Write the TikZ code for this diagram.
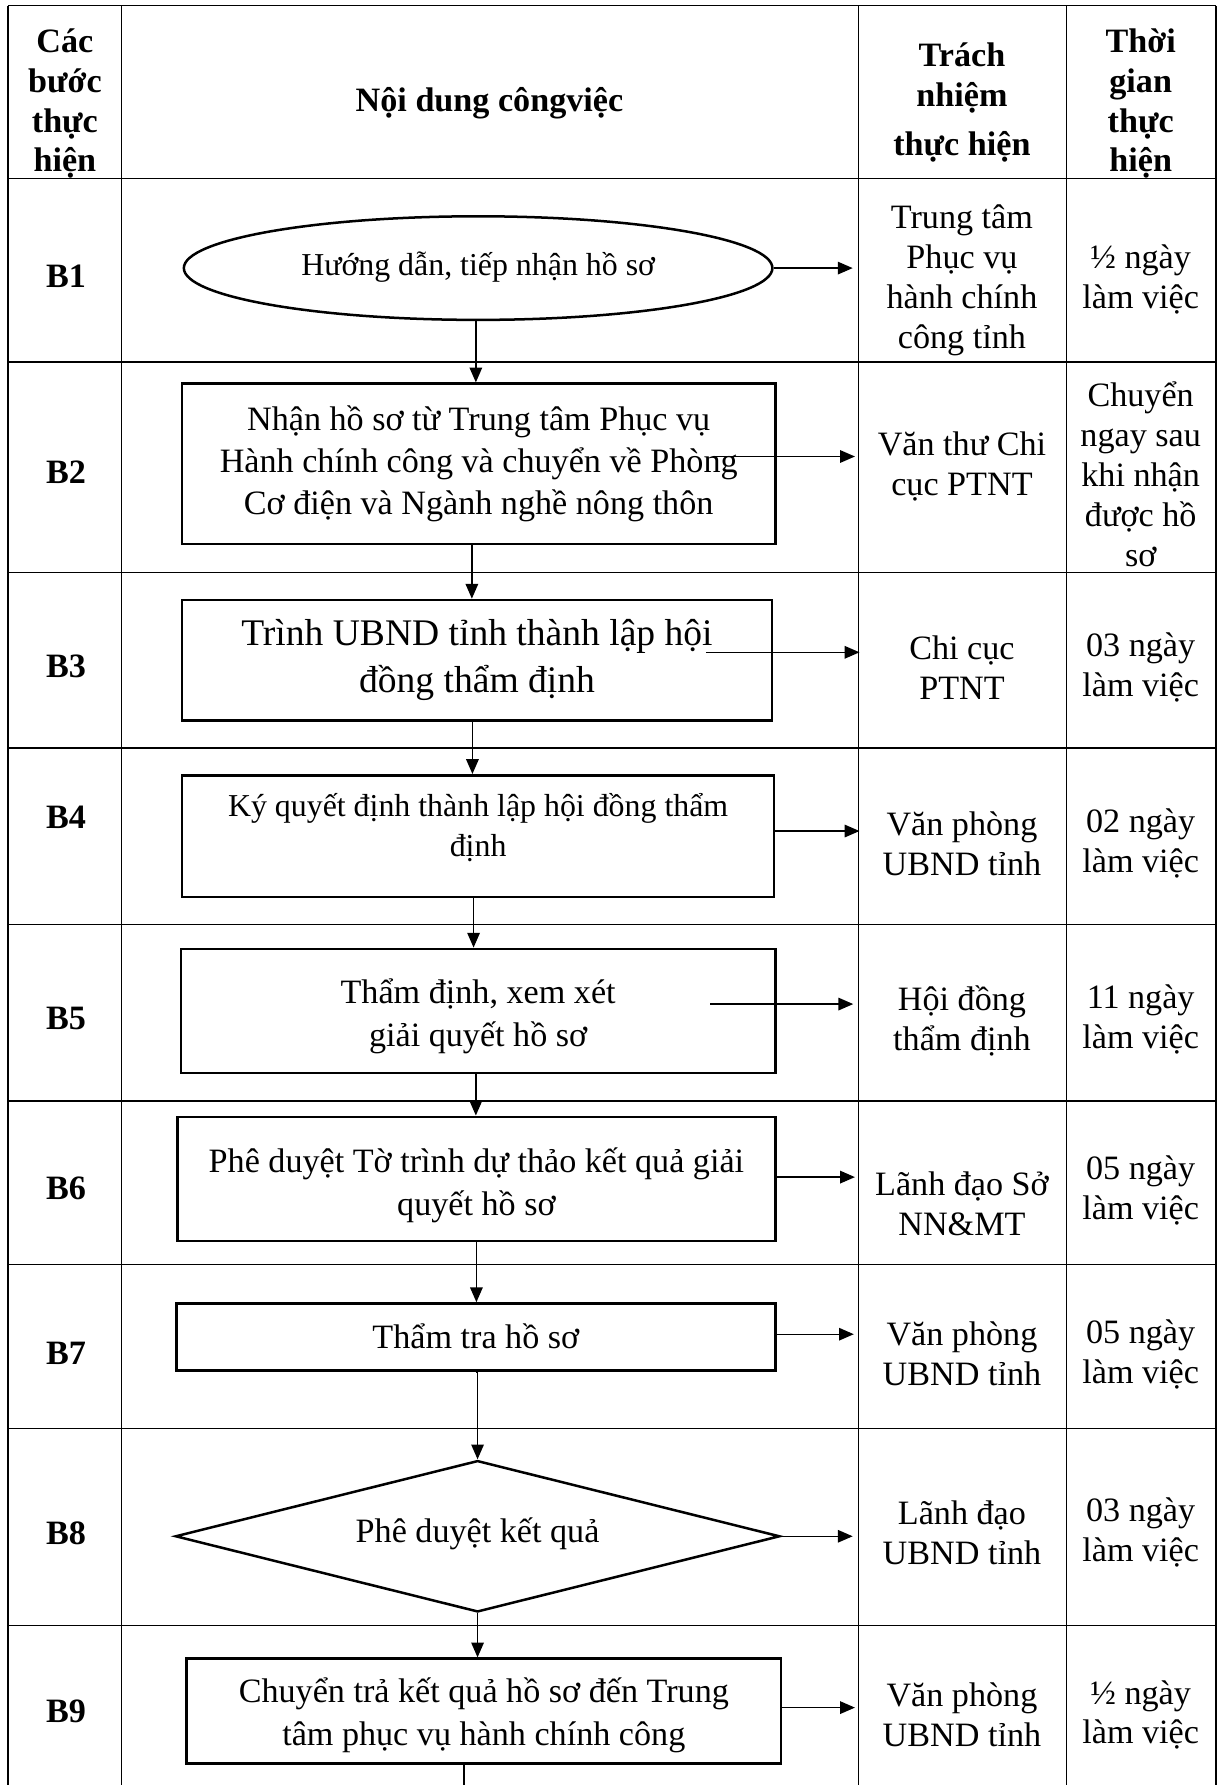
\documentclass[tikz,border=0pt]{standalone}
\usepackage{fontspec}
\setmainfont{Liberation Serif}
\usetikzlibrary{arrows.meta,shapes.geometric}

\begin{document}
\begin{tikzpicture}[x=0.5pt,y=-0.5pt
	,>={Triangle[length=6.5pt,width=5.5pt]}
	,line width=0.6pt]
  \tikzstyle{tablerule}=[line width=0.6pt]
  \tikzstyle{stepbox}=[draw,rectangle,line width=1.1pt,inner sep=0pt]
  \tikzstyle{startend}=[draw,ellipse,line width=1.1pt,inner sep=0pt]
  \tikzstyle{decision}=[draw,diamond,line width=1.1pt,inner sep=0pt]
  \tikzstyle{cell}=[align=center,inner sep=0pt,font=\fontsize{15}{17.5}\selectfont]
  \tikzstyle{steptext}=[align=center,inner sep=0pt,font=\fontsize{15}{19}\selectfont]
  \tikzstyle{headcell}=[cell,font=\bfseries\fontsize{15}{17.5}\selectfont]

  \useasboundingbox (0,0) rectangle (1070,1568);

  % table rules
  \foreach \y in {5,157,318,503,657,812,967,1111,1255,1428}
    \draw[tablerule] (7,\y) -- (1068,\y);
  \foreach \x in {7,107,754,937,1068}
    \draw[tablerule] (\x,5) -- (\x,1568);

  % header
  \node[headcell] (hstep) at (57,91)   {Các\\ bước\\ thực\\ hiện};
  \node[headcell] (hwork) at (430,91)  {Nội dung côngviệc};
  \node[headcell] (hresp) at (845,90)  {Trách\\ nhiệm\\[4pt] thực hiện};
  \node[headcell] (htime) at (1002,91) {Thời\\ gian\\ thực\\ hiện};

  % step names
  \foreach \n/\y in {1/243,2/415,3/585,4/718,5/895,6/1044,7/1189,8/1347,9/1503}
    \node[headcell] (b\n) at (58,\y) {B\n};

  % flow shapes
  \node[startend,minimum width=258.5pt,minimum height=45.5pt] (s1) at (420,235.5) {};
  \node[stepbox,minimum width=260.5pt,minimum height=70.5pt] (s2) at (420.5,407.5) {};
  \node[stepbox,minimum width=259pt,minimum height=53pt] (s3) at (419,580) {};
  \node[stepbox,minimum width=260pt,minimum height=53.5pt] (s4) at (420,734.5) {};
  \node[stepbox,minimum width=261pt,minimum height=54.5pt] (s5) at (420,888) {};
  \node[stepbox,minimum width=262.5pt,minimum height=54.5pt] (s6) at (418.5,1035.5) {};
  \node[stepbox,minimum width=263pt,minimum height=29.5pt] (s7) at (418,1174.5) {};
  \node[decision,minimum width=265.5pt,minimum height=66.5pt] (s8) at (419.5,1349.5) {};
  \node[stepbox,minimum width=261pt,minimum height=46pt] (s9) at (425,1503) {};

  % texts of the shapes
  \node[steptext,font=\fontsize{14}{16}\selectfont] (t1) at (420,234.5)
	{Hướng dẫn, tiếp nhận hồ sơ};
  \node[steptext,font=\fontsize{15}{18.5}\selectfont] (t2) at (420.5,407.5)
	{Nhận hồ sơ từ Trung tâm Phục vụ\\ Hành chính công và chuyển về Phòng\\
	 Cơ điện và Ngành nghề nông thôn};
  \node[steptext,font=\fontsize{16.5}{20.5}\selectfont] (t3) at (419,580)
	{Trình UBND tỉnh thành lập hội\\ đồng thẩm định};
  \node[steptext,font=\fontsize{14}{17.5}\selectfont] (t4) at (420,727)
	{Ký quyết định thành lập hội đồng thẩm\\ định};
  \node[steptext] (t5) at (420,892.5)  {Thẩm định, xem xét\\ giải quyết hồ sơ};
  \node[steptext] (t6) at (418.5,1041.5)
	{Phê duyệt Tờ trình dự thảo kết quả giải\\ quyết hồ sơ};
  \node[steptext] (t7) at (418,1174)   {Thẩm tra hồ sơ};
  \node[steptext] (t8) at (419.5,1347) {Phê duyệt kết quả};
  \node[steptext] (t9) at (425,1507)
	{Chuyển trả kết quả hồ sơ đến Trung\\ tâm phục vụ hành chính công};

  % responsible units
  \node[cell] (resp1) at (845,246)    {Trung tâm\\ Phục vụ\\ hành chính\\ công tỉnh};
  \node[cell] (resp2) at (845,409.5)  {Văn thư Chi\\ cục PTNT};
  \node[cell] (resp3) at (845,586.5)  {Chi cục\\ PTNT};
  \node[cell] (resp4) at (845,741)    {Văn phòng\\ UBND tỉnh};
  \node[cell] (resp5) at (845,896.5)  {Hội đồng\\ thẩm định};
  \node[cell] (resp6) at (845,1057.5) {Lãnh đạo Sở\\ NN\&MT};
  \node[cell] (resp7) at (845,1189.5) {Văn phòng\\ UBND tỉnh};
  \node[cell] (resp8) at (845,1346.5) {Lãnh đạo\\ UBND tỉnh};
  \node[cell] (resp9) at (845,1506.5) {Văn phòng\\ UBND tỉnh};

  % time
  \node[cell] (time1) at (1002,245.5)  {½ ngày\\ làm việc};
  \node[cell] (time2) at (1002,416.5)  {Chuyển\\ ngay sau\\ khi nhận\\ được hồ\\ sơ};
  \node[cell] (time3) at (1002,586.5)  {03 ngày\\ làm việc};
  \node[cell] (time4) at (1002,741)    {02 ngày\\ làm việc};
  \node[cell] (time5) at (1002,895.5)  {11 ngày\\ làm việc};
  \node[cell] (time6) at (1002,1045.5) {05 ngày\\ làm việc};
  \node[cell] (time7) at (1002,1189.5) {05 ngày\\ làm việc};
  \node[cell] (time8) at (1002,1346.5) {03 ngày\\ làm việc};
  \node[cell] (time9) at (1002,1506.5) {½ ngày\\ làm việc};

  % arrow ends at the responsibility column
  \coordinate (in1) at (749,235.5);
  \coordinate (in2) at (751,401);
  \coordinate (in3) at (755,573);
  \coordinate (in4) at (755,730);
  \coordinate (in5) at (749.5,882);
  \coordinate (in6) at (751,1034);
  \coordinate (in7) at (750,1172);
  \coordinate (in8) at (749,1349.5);
  \coordinate (in9) at (751,1500);
  % arrows starting inside the boxes
  \coordinate (out2) at (626,401);
  \coordinate (out3) at (620,573);
  \coordinate (out5) at (624,882);
  \coordinate (exit) at (407.5,1568);

  % to the right
  \draw[->] (s1.east)       -- (in1);
  \draw[->] (out2)          -- (in2);
  \draw[->] (out3)          -- (in3);
  \draw[->] (s4.east |- in4) -- (in4);
  \draw[->] (out5)          -- (in5);
  \draw[->] (s6.east |- in6) -- (in6);
  \draw[->] (s7.east |- in7) -- (in7);
  \draw[->] (s8.east)       -- (in8);
  \draw[->] (s9.east |- in9) -- (in9);
  % downwards
  \draw[->] ([xshift=-1pt]s1.south) -- ([xshift=-1pt]s1.south |- s2.north);
  \draw[->] ([xshift=-3pt]s2.south) -- ([xshift=-3pt]s2.south |- s3.north);
  \draw[->] ([xshift=-2pt]s3.south) -- ([xshift=-2pt]s3.south |- s4.north);
  \draw[->] ([xshift=-2pt]s4.south) -- ([xshift=-2pt]s4.south |- s5.north);
  \draw[->] ([xshift=-1pt]s5.south) -- ([xshift=-1pt]s5.south |- s6.north);
  \draw[->] (s6.south)      -- (s6.south |- s7.north);
  \draw[->] (s7.south)      -- (s7.south -| s8.north) -- (s8.north);
  \draw[->] (s8.south)      -- (s8.south |- s9.north);
  \draw     (s9.south -| exit) -- (exit);
\end{tikzpicture}
\end{document}
